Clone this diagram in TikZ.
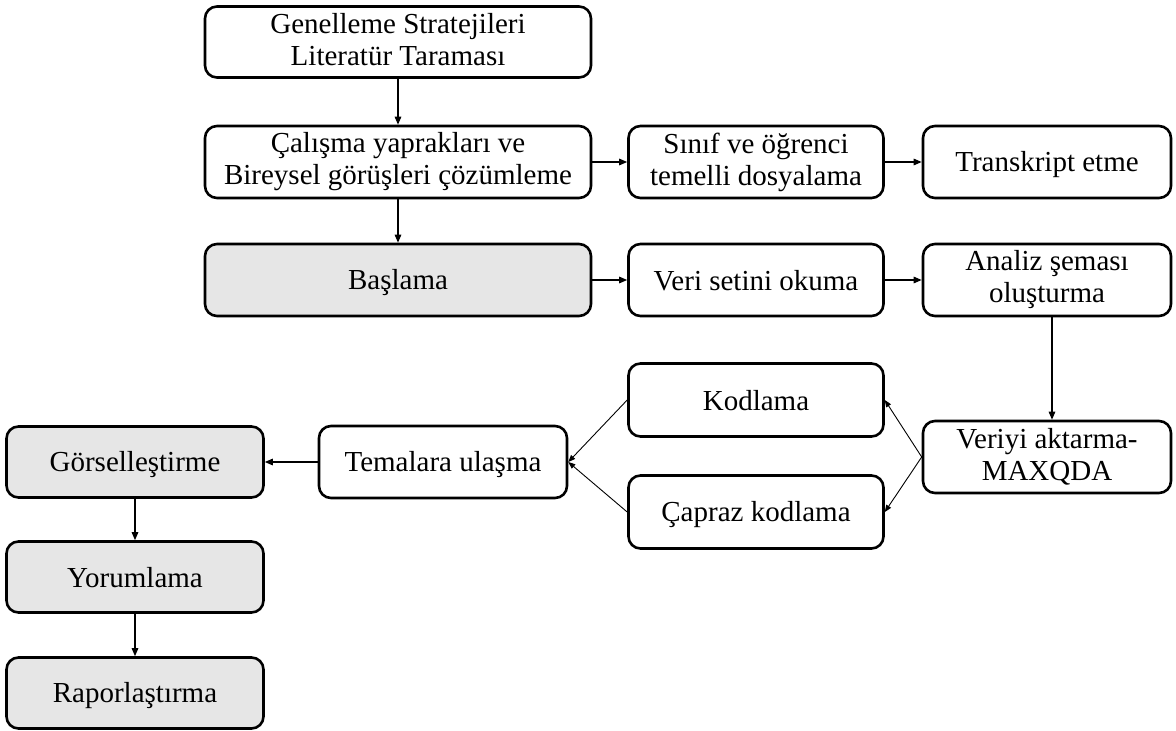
\documentclass[tikz,border=0pt]{standalone}
\usepackage{fontspec}
\setmainfont{Liberation Serif}
\usetikzlibrary{arrows.meta}
\definecolor{boxgray}{HTML}{E6E6E6}
% struts that give every first line the font's ascent and every last line its descent
\newcommand{\topstrut}{\rule{0pt}{0.891em}}
\newcommand{\botstrut}{\rule[-0.2em]{0pt}{0.2em}}
\begin{document}
\begin{tikzpicture}[x=1pt,y=-1pt,
  stepbox/.style={draw=black, line width=2.6pt, rounded corners=12pt, fill=white,
    align=center, inner sep=0pt, font=\fontsize{29}{32}\selectfont,
    execute at begin node=\topstrut, execute at end node=\botstrut},
  graybox/.style={stepbox, fill=boxgray},
  conn/.style={line width=1.3pt, -{Triangle[length=8pt,width=6.5pt]}},
  thinconn/.style={line width=0.9pt, -{Triangle[length=7pt,width=5.5pt]}}]
\useasboundingbox (0,0) rectangle (1176,731);

% main column
\node[stepbox, minimum width=386pt, minimum height=71pt] (lit) at (398,42) {Genelleme Stratejileri\\Literatür Taraması};
\node[stepbox, minimum width=386pt, minimum height=72pt] (cal) at (398,162) {Çalışma yaprakları ve\\Bireysel görüşleri çözümleme};
\node[graybox, minimum width=386pt, minimum height=72pt] (bas) at (398,280) {Başlama};

% second and third columns
\node[stepbox, minimum width=255pt, minimum height=72pt] (sinif) at (756,162) {Sınıf ve öğrenci\\temelli dosyalama};
\node[stepbox, minimum width=248pt, minimum height=72pt] (trans) at (1047,162) {Transkript etme};
\node[stepbox, minimum width=255pt, minimum height=72pt] (veri) at (756,280) {Veri setini okuma};
\node[stepbox, minimum width=248pt, minimum height=72pt] (analiz) at (1047,280) {Analiz şeması\\oluşturma};

% coding stage
\node[stepbox, minimum width=255pt, minimum height=73pt] (kod) at (756,400) {Kodlama};
\node[stepbox, minimum width=248pt, minimum height=72pt] (maxq) at (1047,457) {Veriyi aktarma-\\MAXQDA};
\node[stepbox, minimum width=255pt, minimum height=73pt] (capraz) at (756,512) {Çapraz kodlama};
\node[stepbox, minimum width=248pt, minimum height=72pt] (tema) at (443,462) {Temalara ulaşma};

% reporting column
\node[graybox, minimum width=257pt, minimum height=71pt] (gorsel) at (135,462) {Görselleştirme};
\node[graybox, minimum width=257pt, minimum height=71pt] (yorum) at (135,577) {Yorumlama};
\node[graybox, minimum width=257pt, minimum height=71pt] (rapor) at (135,693) {Raporlaştırma};

% connectors
\draw[conn] (lit) -- (cal);
\draw[conn] (cal) -- (bas);
\draw[conn] (cal) -- (sinif);
\draw[conn] (sinif) -- (trans);
\draw[conn] (bas) -- (veri);
\draw[conn] (veri) -- (analiz);
\path (analiz.south) ++(5,0) coordinate (ana);
\draw[conn] (ana) -- (ana |- maxq.north);
\draw[thinconn] (maxq.west) -- (kod.east);
\draw[thinconn] (maxq.west) -- (capraz.east);
\draw[thinconn] (kod.west) -- (tema.east);
\draw[thinconn] (capraz.west) -- (tema.east);
\draw[conn] (tema.west) -- (gorsel.east);
\draw[conn] (gorsel) -- (yorum);
\draw[conn] (yorum) -- (rapor);
\end{tikzpicture}
\end{document}
